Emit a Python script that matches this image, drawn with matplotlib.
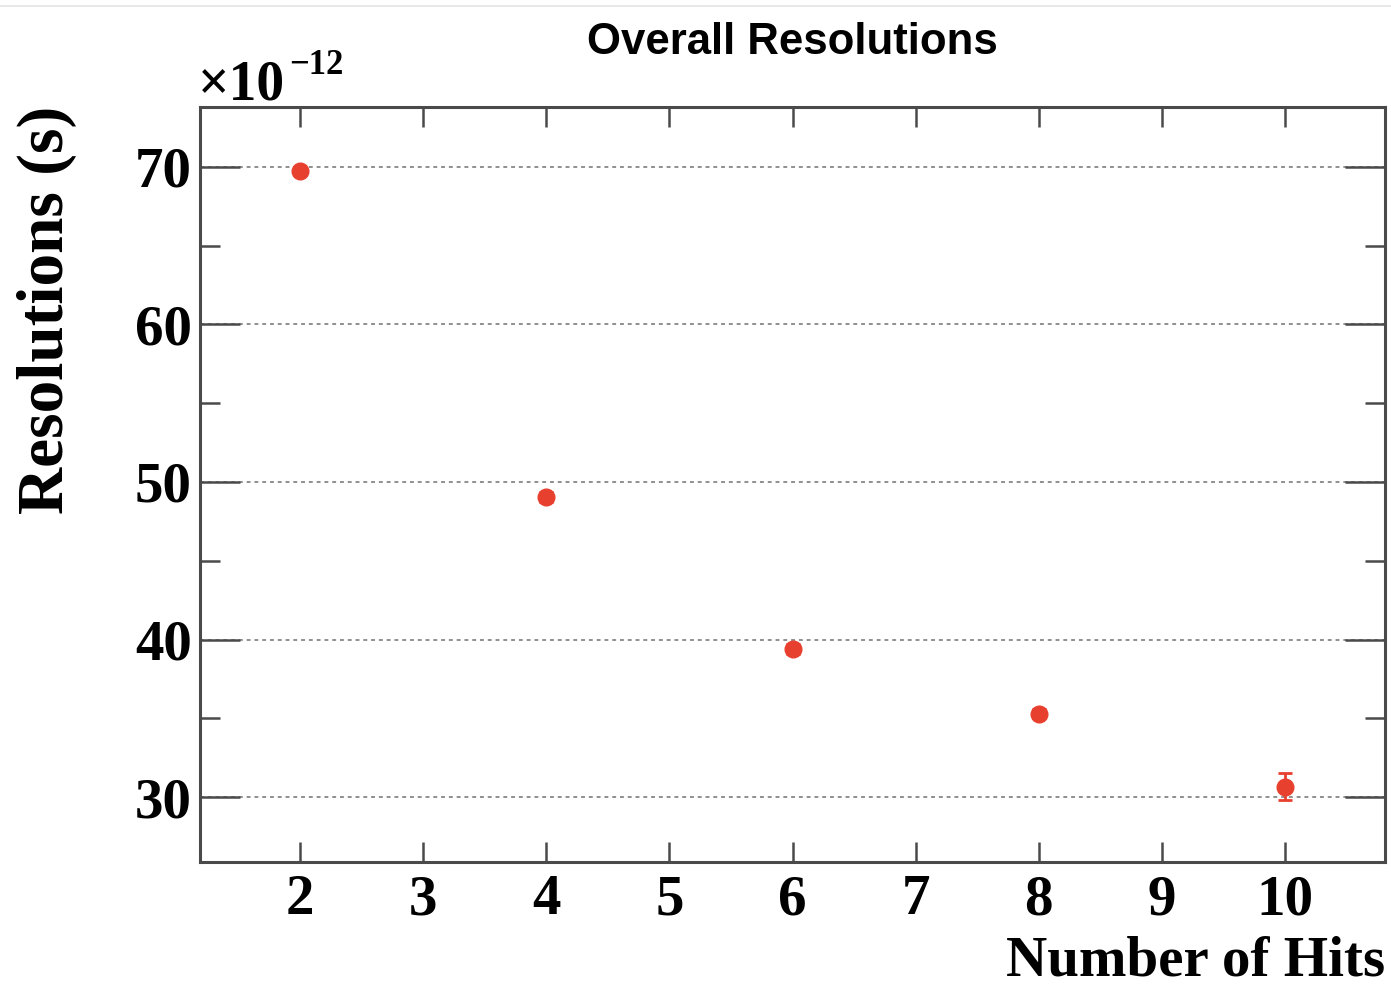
import matplotlib
matplotlib.use("Agg")
import matplotlib.pyplot as plt
from matplotlib.ticker import MultipleLocator, FixedLocator
from matplotlib.lines import Line2D

# Timing resolution versus number of hits (values in units of 1e-12 s)
hits = [2, 4, 6, 8, 10]
resolution_e12 = [69.75, 49.05, 39.41, 35.29, 30.66]
resolution_err_e12 = [0.15, 0.30, 0.30, 0.30, 0.85]

x_ticks = [2, 3, 4, 5, 6, 7, 8, 9, 10]
y_ticks = [30, 40, 50, 60, 70]

W, H = 1391, 985
fig = plt.figure(figsize=(W / 100, H / 100), dpi=100)
fig.patch.set_facecolor("white")

ax = fig.add_axes([200 / W, 1 - 862 / H, 1185 / W, 755 / H])

red = "#e8402f"
frame = "#4a4a4a"

ax.errorbar(hits, resolution_e12, yerr=resolution_err_e12, fmt="o",
            color=red, ms=12, mec=red, mfc=red, elinewidth=2.0,
            capsize=5, capthick=2.0, zorder=5)

ax.set_xlim(1.19, 10.81)
ax.set_ylim(25.88, 73.8)

ax.xaxis.set_major_locator(FixedLocator(x_ticks))
ax.yaxis.set_major_locator(FixedLocator(y_ticks))
ax.yaxis.set_minor_locator(MultipleLocator(5))

serif = "Liberation Serif"
ax.set_xticklabels([str(t) for t in x_ticks], fontfamily=serif,
                   fontweight="bold", fontsize=41)
ax.set_yticklabels([str(t) for t in y_ticks], fontfamily=serif,
                   fontweight="bold", fontsize=41)

ax.tick_params(axis="x", which="major", direction="in", length=14.5,
               width=1.8, color=frame, top=True, bottom=True, pad=9)
ax.tick_params(axis="y", which="major", direction="in", length=28.5,
               width=1.8, color=frame, left=True, right=True, pad=6)
ax.tick_params(axis="y", which="minor", direction="in", length=14.5,
               width=1.8, color=frame, left=True, right=True)
ax.tick_params(axis="x", which="minor", bottom=False, top=False)

for s in ax.spines.values():
    s.set_linewidth(2.2)
    s.set_color(frame)

ax.yaxis.grid(True, which="major", linestyle=(0, (2, 2)), color="#8f8f8f",
              linewidth=1.4, zorder=0)
ax.xaxis.grid(False)
ax.set_axisbelow(True)

# Title and axis titles
fig.text(792 / W, 1 - 43 / H, "Overall Resolutions", ha="center", va="center",
         fontfamily="Liberation Sans", fontweight="bold", fontsize=31.5)
fig.text(1385 / W, 1 - 975 / H, "Number of Hits", ha="right", va="baseline",
         fontfamily=serif, fontweight="bold", fontsize=41)
fig.text(47 / W, 1 - 106 / H, "Resolutions (s)", ha="center", va="top",
         rotation=90, fontfamily=serif, fontweight="bold", fontsize=47)

# Exponent of the y scale
fig.text(198 / W, 1 - 99 / H, "\u00d710", ha="left", va="baseline",
         fontfamily=serif, fontweight="bold", fontsize=40)
fig.text(289 / W, 1 - 74 / H, "\u221212", ha="left", va="baseline",
         fontfamily=serif, fontweight="bold", fontsize=25)

# Faint page edge at the top
fig.add_artist(Line2D([0, 1], [1 - 6 / H, 1 - 6 / H], transform=fig.transFigure,
                      color="#e4e4e4", linewidth=1.2))

fig.savefig("out.png", dpi=100, facecolor="white")
